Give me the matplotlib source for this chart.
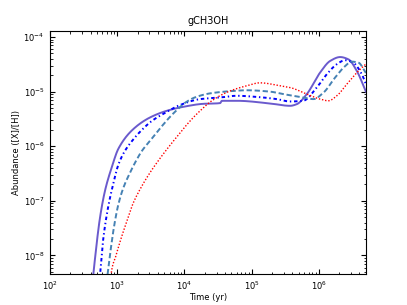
import numpy as np
import matplotlib
matplotlib.use("Agg")
import matplotlib.pyplot as plt

# Series 1: solid slate blue
t1 = [426, 441, 555, 658, 828, 1038, 1738, 3075, 5450, 9640, 1.89e4, 3.39e4,
      3.59e4, 6.0e4, 1.88e5, 3.73e5, 4.69e5, 6.6e5, 1.04e6, 1.47e6, 2.07e6, 2.75e6,
      3.66e6, 5.0e6]
a1 = [3.1e-9, 4.68e-9, 5.05e-8, 1.55e-7, 4.12e-7, 9.0e-7, 2.07e-6, 3.37e-6, 4.46e-6,
      5.28e-6, 5.98e-6, 6.16e-6, 6.79e-6, 6.8e-6, 6.07e-6, 5.5e-6, 5.9e-6,
      9.0e-6, 2.23e-5, 3.65e-5, 4.3e-5, 3.9e-5, 2.4e-5, 1.0e-5]

# Series 2: blue dash-dot
t2 = [542, 555, 615, 730, 866, 1038, 1306, 1718, 2339, 3296, 5510, 8040, 1.71e4,
      3.39e4, 6.0e4, 1.19e5, 2.36e5, 3.73e5, 5.82e5, 9.3e5, 1.31e6, 1.85e6, 2.45e6,
      3.23e6, 4.35e6, 5.0e6]
a2 = [3.24e-9, 4.54e-9, 1.89e-8, 7.6e-8, 1.99e-7, 4.6e-7, 8.3e-7, 1.32e-6, 2.01e-6,
      2.93e-6, 4.28e-6, 5.5e-6, 7.3e-6, 7.8e-6, 8.4e-6, 8.0e-6, 7.3e-6, 6.6e-6,
      6.8e-6, 1.19e-5, 2.08e-5, 3.18e-5, 3.76e-5, 3.4e-5, 2.08e-5, 1.37e-5]

# Series 3: steel blue dashed
t3 = [693, 717, 795, 896, 1028, 1220, 1500, 1841, 2339, 3075, 4808, 6110, 7770,
      1.02e4, 1.44e4, 2.4e4, 4.77e4, 8.45e4, 1.88e5, 2.97e5, 5.88e5, 8.28e5,
      1.17e6, 1.74e6, 2.32e6, 3.09e6, 3.87e6, 5.0e6]
a3 = [3.24e-9, 4.54e-9, 1.24e-8, 3.41e-8, 8.2e-8, 1.68e-7, 3.03e-7, 5.02e-7, 8.3e-7,
      1.26e-6, 2.48e-6, 3.47e-6, 4.66e-6, 6.25e-6, 7.87e-6, 9.3e-6, 1.02e-5,
      1.06e-5, 1.0e-5, 9.0e-6, 7.8e-6, 7.3e-6, 9.6e-6, 1.81e-5, 2.75e-5, 3.54e-5,
      3.4e-5, 2.2e-5]

# Series 4: red dotted
t4 = [795, 809, 960, 1140, 1353, 1718, 2259, 3075, 4188, 5700, 8040, 1.13e4, 1.59e4,
      2.67e4, 4.77e4, 8.45e4, 1.33e5, 2.65e5, 3.73e5, 6.6e5, 1.04e6, 1.38e6, 1.85e6,
      2.6e6, 3.66e6, 5.0e6]
a4 = [3.24e-9, 4.54e-9, 1.01e-8, 2.06e-8, 3.87e-8, 8.98e-8, 1.76e-7, 3.3e-7, 5.69e-7,
      9.4e-7, 1.59e-6, 2.64e-6, 4.1e-6, 7.08e-6, 1.03e-5, 1.28e-5, 1.45e-5, 1.28e-5,
      1.19e-5, 9.0e-6, 7.3e-6, 6.8e-6, 8.4e-6, 1.37e-5, 2.23e-5, 3.2e-5]

xlim = (1e2, 5e6)
ylim = (4.6e-9, 1.3e-4)

plt.rcParams.update({
    "font.family": "DejaVu Sans",
    "font.size": 6,
    "xtick.direction": "in",
    "ytick.direction": "in",
    "xtick.top": True,
    "ytick.right": True,
    "xtick.major.size": 3.5,
    "ytick.major.size": 3.5,
    "xtick.minor.size": 1.8,
    "ytick.minor.size": 1.8,
    "xtick.major.pad": 4,
    "ytick.major.pad": 4,
    "axes.linewidth": 0.8,
    "lines.scale_dashes": False,
})

fig = plt.figure(figsize=(4.07, 3.05), dpi=100)
ax = fig.add_axes([0.123, 0.102, 0.776, 0.797])


def pchip(x, y, xs):
    x = np.asarray(x, float)
    y = np.asarray(y, float)
    h = np.diff(x)
    d = np.diff(y) / h
    n = len(x)
    m = np.zeros(n)
    m[0] = d[0]
    m[-1] = d[-1]
    for k in range(1, n - 1):
        if d[k - 1] * d[k] <= 0:
            m[k] = 0.0
        else:
            w1 = 2 * h[k] + h[k - 1]
            w2 = h[k] + 2 * h[k - 1]
            m[k] = (w1 + w2) / (w1 / d[k - 1] + w2 / d[k])
    idx = np.clip(np.searchsorted(x, xs) - 1, 0, n - 2)
    hk = h[idx]
    s = (xs - x[idx]) / hk
    h00 = 2 * s**3 - 3 * s**2 + 1
    h10 = s**3 - 2 * s**2 + s
    h01 = -2 * s**3 + 3 * s**2
    h11 = s**3 - s**2
    return h00 * y[idx] + h10 * hk * m[idx] + h01 * y[idx + 1] + h11 * hk * m[idx + 1]


def curve(t, a, n=1000):
    lt = np.log10(t)
    la = np.log10(a)
    xs = np.linspace(lt[0], lt[-1], n)
    ys = pchip(lt, la, xs)
    return 10 ** xs, 10 ** ys


x, y = curve(t1, a1)
ax.plot(x, y, '-', color='#6a5acd', lw=1.4)
x, y = curve(t2, a2)
ax.plot(x, y, color='#0000ff', lw=1.4, dashes=(2.5, 2.0, 1.0, 2.0))
x, y = curve(t3, a3)
ax.plot(x, y, color='#4682b4', lw=1.4, dashes=(3.8, 2.0))
x, y = curve(t4, a4)
ax.plot(x, y, color='#ff0000', lw=1.0, dashes=(1.0, 1.3))

ax.set_xscale('log')
ax.set_yscale('log')
ax.set_xlim(*xlim)
ax.set_ylim(*ylim)
ax.set_xlabel('Time (yr)', fontsize=6, labelpad=1)
ax.set_ylabel('Abundance ([X]/[H])', fontsize=6, labelpad=2)
ax.set_title('gCH3OH', fontsize=7, pad=5)
ax.tick_params(labelsize=6)

fig.savefig('out.png', dpi=100, facecolor='white')
